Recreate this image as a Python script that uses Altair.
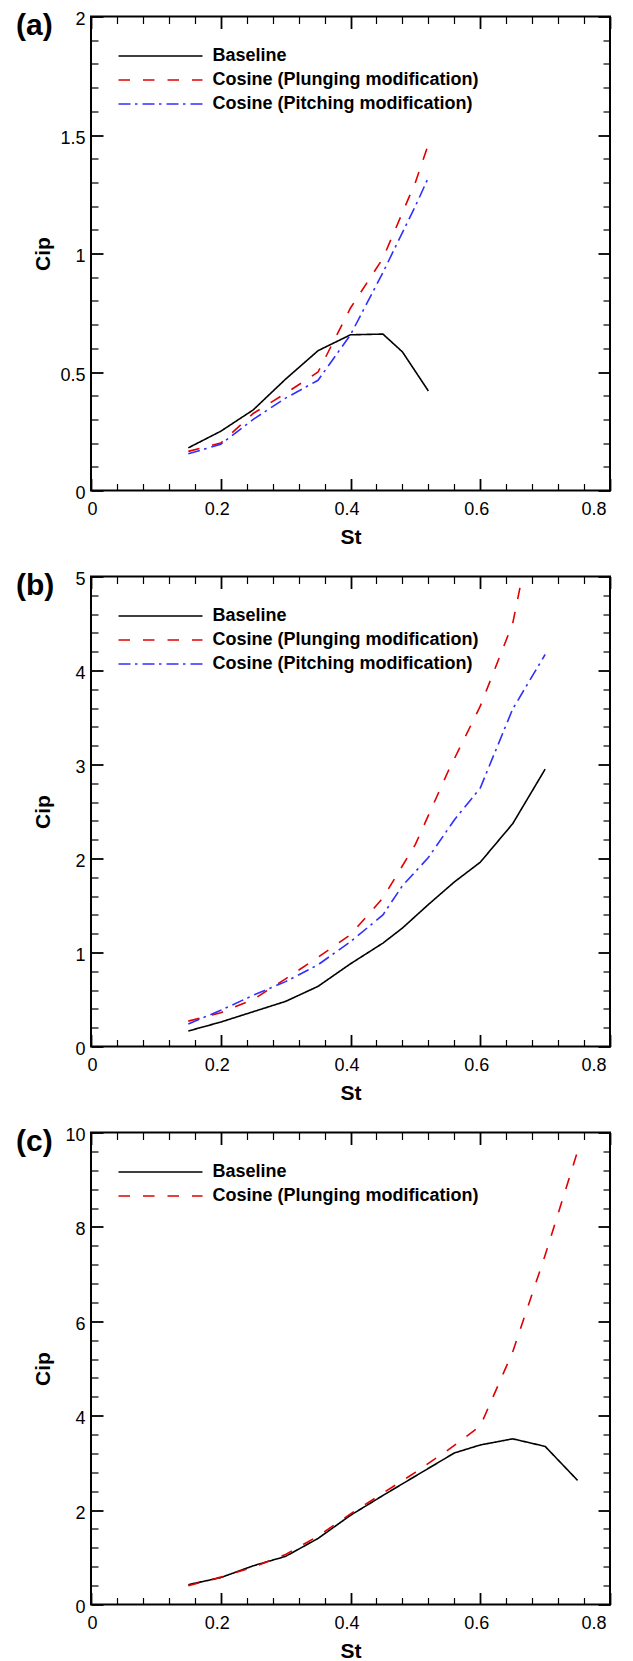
import altair as alt
import pandas as pd

FONT = "Liberation Sans"
SERIES = ["Baseline", "Cosine (Plunging modification)", "Cosine (Pitching modification)"]
COLORS = ["#000000", "#e00000", "#2f2fff"]
DASHES = [[1, 0], [11.5, 13], [12, 4.5, 2.5, 5]]

X_MAJOR = [0, 0.2, 0.4, 0.6, 0.8]
X_MINOR = [0.04, 0.08, 0.12, 0.16, 0.24, 0.28, 0.32, 0.36,
           0.44, 0.48, 0.52, 0.56, 0.64, 0.68, 0.72, 0.76]

# ---- panel (a)
A_ST_BASE = [0.15, 0.2, 0.25, 0.3, 0.35, 0.4, 0.45, 0.48, 0.52]
A_BASE = [0.18, 0.25, 0.34, 0.47, 0.59, 0.657, 0.66, 0.585, 0.42]
A_ST_MOD = [0.15, 0.2, 0.25, 0.3, 0.35, 0.4, 0.45, 0.5, 0.52]
A_PLUNGE = [0.165, 0.20, 0.325, 0.41, 0.50, 0.77, 0.98, 1.30, 1.46]
A_PITCH = [0.155, 0.195, 0.30, 0.39, 0.465, 0.657, 0.92, 1.20, 1.32]
A_Y_MAJOR = [0, 0.5, 1, 1.5, 2]
A_Y_MINOR = [0.1, 0.2, 0.3, 0.4, 0.6, 0.7, 0.8, 0.9, 1.1, 1.2, 1.3, 1.4, 1.6, 1.7, 1.8, 1.9]

# ---- panel (b)
B_ST = [0.15, 0.2, 0.25, 0.3, 0.35, 0.4, 0.45, 0.48, 0.52, 0.56, 0.6, 0.65, 0.7]
B_BASE = [0.165, 0.26, 0.37, 0.48, 0.64, 0.88, 1.10, 1.26, 1.51, 1.75, 1.96, 2.37, 2.95]
B_PITCH = [0.24, 0.385, 0.545, 0.69, 0.87, 1.115, 1.40, 1.71, 2.01, 2.41, 2.75, 3.59, 4.17]
B_ST_PLUNGE = [0.15, 0.2, 0.25, 0.3, 0.35, 0.4, 0.45, 0.5, 0.55, 0.6, 0.65, 0.7]
B_PLUNGE = [0.27, 0.36, 0.50, 0.72, 0.95, 1.19, 1.58, 2.15, 2.92, 3.62, 4.5, 6.2]
B_Y_MAJOR = [0, 1, 2, 3, 4, 5]
B_Y_MINOR = [0.2, 0.4, 0.6, 0.8, 1.2, 1.4, 1.6, 1.8, 2.2, 2.4, 2.6, 2.8,
             3.2, 3.4, 3.6, 3.8, 4.2, 4.4, 4.6, 4.8]

# ---- panel (c)
C_ST = [0.15, 0.2, 0.25, 0.3, 0.35, 0.4, 0.45, 0.5, 0.56, 0.6, 0.65, 0.7, 0.75]
C_BASE = [0.42, 0.57, 0.82, 1.02, 1.40, 1.89, 2.31, 2.72, 3.21, 3.38, 3.51, 3.35, 2.63]
C_ST_PLUNGE = [0.15, 0.2, 0.25, 0.3, 0.35, 0.4, 0.45, 0.5, 0.55, 0.6, 0.65, 0.7, 0.75]
C_PLUNGE = [0.40, 0.58, 0.79, 1.06, 1.45, 1.92, 2.36, 2.80, 3.27, 3.78, 5.35, 7.4, 9.6]
C_Y_MAJOR = [0, 2, 4, 6, 8, 10]
C_Y_MINOR = [0.4, 0.8, 1.2, 1.6, 2.4, 2.8, 3.2, 3.6, 4.4, 4.8, 5.2, 5.6,
             6.4, 6.8, 7.2, 7.6, 8.4, 8.8, 9.2, 9.6]


def to_df(groups):
    rows = []
    for name, xs, ys in groups:
        for x, y in zip(xs, ys):
            rows.append({"St": x, "Cip": y, "series": name})
    return pd.DataFrame(rows)


def panel(df, names, ymax, y_major, y_minor, label, height, width=519):
    xs = alt.Scale(domain=[0, 0.8], nice=False, zero=False)
    ys = alt.Scale(domain=[0, ymax], nice=False, zero=False)
    idx = [SERIES.index(n) for n in names]
    leg = alt.Legend(
        orient="none", legendX=26.5, legendY=27.5, title=None,
        symbolType="stroke", symbolSize=7056, symbolStrokeWidth=1.6,
        clipHeight=24, rowPadding=0, padding=0, symbolOffset=0,
        labelFont=FONT, labelFontSize=18, labelFontWeight="bold",
        labelColor="black", labelOffset=9, labelLimit=500,
    )
    base = alt.Chart(df)
    lines = base.mark_line(strokeWidth=1.6, clip=True).encode(
        x=alt.X("St:Q", scale=xs, axis=alt.Axis(
            orient="bottom", values=X_MAJOR, format="~f", ticks=False,
            domain=False, grid=False, labelFont=FONT, labelFontSize=18,
            labelColor="black", labelPadding=10, labelOffset=-4,
            title="St", titleFont=FONT, titleFontSize=21, titleFontWeight="bold",
            titleColor="black", titleY=53, titleBaseline="alphabetic")),
        y=alt.Y("Cip:Q", scale=ys, axis=alt.Axis(
            orient="left", values=y_major, format="~f", ticks=False,
            domain=False, grid=False, labelFont=FONT, labelFontSize=18,
            labelColor="black", labelPadding=6, labelOffset=3,
            title="Cip", titleFont=FONT, titleFontSize=21, titleFontWeight="bold",
            titleColor="black", titleX=-42, titleY=height / 2,
            titleBaseline="alphabetic")),
        color=alt.Color("series:N", scale=alt.Scale(domain=names, range=[COLORS[i] for i in idx]), legend=leg),
        strokeDash=alt.StrokeDash("series:N", scale=alt.Scale(domain=names, range=[DASHES[i] for i in idx]), legend=leg),
        order=alt.Order("St:Q"),
    )

    def ticks(xo, yo, xv, yv, size, w, xtitle=None):
        xaxis_kw = dict(
            orient=xo, values=xv, labels=False, domain=False, grid=False,
            tickSize=size, tickWidth=w, tickColor="black", offset=-size, title=None)
        if xtitle is not None:
            # panel label "(a)/(b)/(c)" carried by the top axis title
            xaxis_kw.update(
                title=xtitle, titleX=-75.5, titleY=18 - size, titleAlign="left",
                titleAngle=0, titleBaseline="alphabetic", titleFont=FONT,
                titleFontSize=30, titleFontWeight="bold", titleColor="black")
        return base.mark_point(opacity=0).encode(
            x=alt.X("St:Q", scale=xs, axis=alt.Axis(**xaxis_kw)),
            y=alt.Y("Cip:Q", scale=ys, axis=alt.Axis(
                orient=yo, values=yv, labels=False, domain=False, grid=False,
                tickSize=size, tickWidth=w, tickColor="black", offset=-size, title=None)),
        )

    layers = [
        lines,
        ticks("bottom", "left", X_MAJOR, y_major, 12, 1.8),
        ticks("bottom", "left", X_MINOR, y_minor, 7, 1.2),
        ticks("top", "right", X_MAJOR, y_major, 12, 1.8, xtitle=label),
        ticks("top", "right", X_MINOR, y_minor, 7, 1.2),
    ]
    return alt.layer(*layers).resolve_axis(x="independent", y="independent").properties(
        width=width, height=height,
    )


df_a = to_df([
    (SERIES[0], A_ST_BASE, A_BASE),
    (SERIES[1], A_ST_MOD, A_PLUNGE),
    (SERIES[2], A_ST_MOD, A_PITCH),
])
df_b = to_df([
    (SERIES[0], B_ST, B_BASE),
    (SERIES[1], B_ST_PLUNGE, B_PLUNGE),
    (SERIES[2], B_ST, B_PITCH),
])
df_c = to_df([
    (SERIES[0], C_ST, C_BASE),
    (SERIES[1], C_ST_PLUNGE, C_PLUNGE),
])

pa = panel(df_a, SERIES, 2, A_Y_MAJOR, A_Y_MINOR, "(a)", 474)
pb = panel(df_b, SERIES, 5, B_Y_MAJOR, B_Y_MINOR, "(b)", 470)
pc = panel(df_c, SERIES[:2], 10, C_Y_MAJOR, C_Y_MINOR, "(c)", 472)

chart = alt.vconcat(pa, pb, pc, spacing=86, bounds="flush").resolve_scale(
    color="independent", strokeDash="independent"
).properties(
    padding={"left": 14, "top": 9.5, "right": 5, "bottom": 2},
    background="white",
).configure_view(stroke="black", strokeWidth=2)

chart.save("out.html", embed_options={"renderer": "svg", "actions": False})
